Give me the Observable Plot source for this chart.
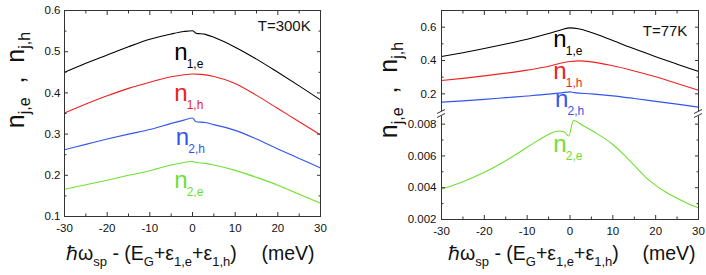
<!DOCTYPE html>
<html><head><meta charset="utf-8">
<script src="https://cdn.jsdelivr.net/npm/d3@7"></script>
<script src="https://cdn.jsdelivr.net/npm/@observablehq/plot@0.6"></script>
<style>
body{margin:0;background:#fff;}
#root{position:relative;width:706px;height:275px;overflow:hidden;background:#fff;font-family:"Liberation Sans",Arial,Helvetica,sans-serif;}
#root > svg{position:absolute;top:0;}
</style></head><body><div id="root"></div>
<script>
// ---------- data ----------
const X_DOMAIN = [-30, 30];
const X_MAJOR = [-30, -20, -10, 0, 10, 20, 30];
const X_MINOR = [-25, -15, -5, 5, 15, 25];

const Y300_DOMAIN = [0.1, 0.6];
const Y300_MAJOR = [0.1, 0.2, 0.3, 0.4, 0.5, 0.6];
const Y300_MINOR = [0.15, 0.25, 0.35, 0.45, 0.55];

const Y77_UP_DOMAIN = [0.094, 0.7];
const Y77_UP_MAJOR = [0.2, 0.4, 0.6];
const Y77_UP_MINOR = [0.3, 0.5];
const Y77_LO_DOMAIN = [0.002, 0.00848];
const Y77_LO_MAJOR = [0.002, 0.004, 0.006, 0.008];
const Y77_LO_MINOR = [0.003, 0.005, 0.007];

const COLORS = {n1e: "#000000", n1h: "#f02020", n2h: "#3355ee", n2e: "#6ee030"};

// T = 300 K
const n1e300_x = [-30,-25,-20,-15,-10,-5,-2,0,0.8,3,5,10,15,20,25,30];
const n1e300_y = [0.450,0.472,0.492,0.512,0.530,0.543,0.549,0.551,0.545,0.542,0.535,0.511,0.482,0.450,0.417,0.383];
const n1h300_x = [-30,-25,-20,-15,-10,-5,-2,0,2,5,10,15,20,25,30];
const n1h300_y = [0.351,0.373,0.393,0.411,0.426,0.439,0.444,0.446,0.445,0.440,0.423,0.394,0.362,0.330,0.298];
const n2h300_x = [-30,-25,-20,-15,-10,-5,-2,0,0.8,3,5,10,15,20,25,30];
const n2h300_y = [0.262,0.275,0.288,0.300,0.311,0.326,0.334,0.339,0.330,0.328,0.323,0.309,0.288,0.264,0.241,0.218];
const n2e300_x = [-30,-25,-20,-15,-10,-5,-2,0,0.8,3,5,10,15,20,25,30];
const n2e300_y = [0.166,0.177,0.188,0.200,0.211,0.225,0.231,0.234,0.231,0.229,0.225,0.212,0.195,0.176,0.154,0.132];

// T = 77 K
const n1e77_x = [-30,-25,-20,-15,-10,-5,-2,0,2,5,10,15,20,25,30];
const n1e77_y = [0.424,0.447,0.472,0.499,0.528,0.562,0.585,0.596,0.590,0.568,0.520,0.470,0.423,0.378,0.334];
const n1h77_x = [-30,-25,-20,-15,-10,-5,-2,0,2,5,10,15,20,25,30];
const n1h77_y = [0.280,0.293,0.308,0.324,0.342,0.365,0.385,0.394,0.398,0.392,0.368,0.337,0.302,0.262,0.222];
const n2h77_x = [-30,-25,-20,-15,-10,-5,-2,0,1,5,10,15,20,25,30];
const n2h77_y = [0.150,0.158,0.167,0.177,0.187,0.198,0.206,0.212,0.207,0.200,0.188,0.172,0.155,0.138,0.120];
const n2e77_x = [-30,-25,-20,-15,-10,-6,-2.6,-1.3,-0.3,0.8,3,5.6,10,12.5,15,17.5,20,22.5,25,27.5,30];
const n2e77_y = [0.00392,0.00438,0.00497,0.00570,0.00654,0.00721,0.00757,0.00750,0.00725,0.00823,0.00792,0.00752,0.00672,0.00610,0.00540,0.00470,0.00415,0.00370,0.00333,0.00300,0.00272];

// curve labels: [x, y, sub, key]
const LABELS300 = [[-4.3,0.481,"1,e","n1e"],[-4.3,0.380,"1,h","n1h"],[-3.9,0.274,"2,h","n2h"],[-4.3,0.170,"2,e","n2e"]];
const LABELS77_UP = [[-3.9,0.48,"1,e","n1e"],[-3.9,0.29,"1,h","n1h"],[-3.5,0.12,"2,h","n2h"]];
const LABELS77_LO = [[-3.9,0.00623,"2,e","n2e"]];
const TEMP300 = [{x: 27.7, y: 0.550, t: "T=300K"}];
const TEMP77 = [{x: 27.4, y: 0.550, t: "T=77K"}];

// ---------- helpers ----------
const zip = (xs, ys, key) => xs.map((x, i) => ({x, y: ys[i], key}));
const AX = {stroke: "#333", strokeWidth: 1};
const styleBase = {background: "transparent", overflow: "visible", fontFamily: "Liberation Sans, Arial, sans-serif", fontSize: "11.5px", color: "#111"};
const fmtX = d => String(d);
const TICK_FS = 11.5;

function yTicks(major, minor, anchors) {
  const m = [];
  for (const a of anchors) {
    m.push(Plot.axisY(major, {anchor: a, tickSize: -4, text: null, label: null, ...AX}));
    m.push(Plot.axisY(minor, {anchor: a, tickSize: -2.5, text: null, label: null, ...AX}));
  }
  return m;
}
function xTicks(anchors) {
  const m = [];
  for (const a of anchors) {
    m.push(Plot.axisX(X_MAJOR, {anchor: a, tickSize: -4, text: null, label: null, ...AX}));
    m.push(Plot.axisX(X_MINOR, {anchor: a, tickSize: -2.5, text: null, label: null, ...AX}));
  }
  return m;
}
function lineMarks(list) {
  return list.map(([xs, ys, key]) => Plot.line(zip(xs, ys, key), {x: d => d.x, y: d => d.y, stroke: COLORS[key], strokeWidth: 1.1, curve: "monotone-x"}));
}
function labelMarks(labels) {
  const data = labels.map(([x, y, sub, key]) => ({x, y, sub, key}));
  return [
    Plot.text(data, {x: d => d.x, y: d => d.y, text: () => "n", fill: d => COLORS[d.key], fontSize: 24, textAnchor: "start", lineAnchor: "bottom"}),
    Plot.text(data, {x: d => d.x, y: d => d.y, text: d => d.sub, fill: d => COLORS[d.key], fontSize: 12, textAnchor: "start", lineAnchor: "bottom", dx: 12.5, dy: 8})
  ];
}

const root = document.getElementById("root");

// ---------- left panel (300 K) ----------
const left = Plot.plot({
  width: 340, height: 275, marginLeft: 64, marginRight: 20, marginTop: 10, marginBottom: 59,
  style: styleBase,
  x: {domain: X_DOMAIN, label: null},
  y: {domain: Y300_DOMAIN, label: null},
  marks: [
    ...lineMarks([[n1e300_x, n1e300_y, "n1e"], [n1h300_x, n1h300_y, "n1h"], [n2h300_x, n2h300_y, "n2h"], [n2e300_x, n2e300_y, "n2e"]]),
    ...labelMarks(LABELS300),
    Plot.text(TEMP300, {x: "x", y: "y", text: "t", fontSize: 15, textAnchor: "end", lineAnchor: "bottom", fill: "#111"}),
    ...yTicks(Y300_MAJOR, Y300_MINOR, ["left", "right"]),
    ...xTicks(["bottom", "top"]),
    Plot.axisY(Y300_MAJOR, {anchor: "left", tickSize: 0, tickPadding: 4, tickFormat: d3.format(".1f"), label: null, fontSize: TICK_FS, fill: "#111"}),
    Plot.axisX(X_MAJOR, {anchor: "bottom", tickSize: 0, tickPadding: 7, tickFormat: fmtX, label: null, fontSize: TICK_FS, fill: "#111"}),
    Plot.frame({stroke: "#333", strokeWidth: 1})
  ]
});
left.style.left = "0px";
root.appendChild(left);

// ---------- right panel (77 K), upper segment ----------
const rightUp = Plot.plot({
  width: 346, height: 275, marginLeft: 81, marginRight: 8, marginTop: 10, marginBottom: 164,
  style: styleBase,
  x: {domain: X_DOMAIN, label: null},
  y: {domain: Y77_UP_DOMAIN, label: null},
  marks: [
    ...lineMarks([[n1e77_x, n1e77_y, "n1e"], [n1h77_x, n1h77_y, "n1h"], [n2h77_x, n2h77_y, "n2h"]]),
    ...labelMarks(LABELS77_UP),
    Plot.text(TEMP77, {x: "x", y: "y", text: "t", fontSize: 15, textAnchor: "end", lineAnchor: "bottom", fill: "#111"}),
    ...yTicks(Y77_UP_MAJOR, Y77_UP_MINOR, ["left", "right"]),
    ...xTicks(["top"]),
    Plot.axisY(Y77_UP_MAJOR, {anchor: "left", tickSize: 0, tickPadding: 5, tickFormat: d3.format(".1f"), label: null, fontSize: TICK_FS, fill: "#111"}),
    Plot.ruleX(X_DOMAIN, {stroke: "#333", strokeWidth: 1}),
    Plot.ruleY([Y77_UP_DOMAIN[1]], {stroke: "#333", strokeWidth: 1})
  ]
});
rightUp.style.left = "360px";
root.appendChild(rightUp);

// ---------- right panel (77 K), lower segment ----------
const rightLo = Plot.plot({
  width: 346, height: 275, marginLeft: 81, marginRight: 8, marginTop: 116, marginBottom: 56,
  style: styleBase,
  x: {domain: X_DOMAIN, label: null},
  y: {domain: Y77_LO_DOMAIN, label: null},
  marks: [
    ...lineMarks([[n2e77_x, n2e77_y, "n2e"]]),
    ...labelMarks(LABELS77_LO),
    ...yTicks(Y77_LO_MAJOR, Y77_LO_MINOR, ["left", "right"]),
    ...xTicks(["bottom"]),
    Plot.axisY(Y77_LO_MAJOR, {anchor: "left", tickSize: 0, tickPadding: 5, tickFormat: d3.format(".3f"), label: null, fontSize: TICK_FS, fill: "#111"}),
    Plot.axisX(X_MAJOR, {anchor: "bottom", tickSize: 0, tickPadding: 7, tickFormat: fmtX, label: null, fontSize: TICK_FS, fill: "#111"}),
    Plot.ruleX(X_DOMAIN, {stroke: "#333", strokeWidth: 1}),
    Plot.ruleY([Y77_LO_DOMAIN[0]], {stroke: "#333", strokeWidth: 1})
  ]
});
rightLo.style.left = "360px";
root.appendChild(rightLo);

// ---------- titles and axis-break marks ----------
const NS = "http://www.w3.org/2000/svg";
const ov = document.createElementNS(NS, "svg");
ov.setAttribute("width", 706); ov.setAttribute("height", 275);
ov.style.left = "0px";
function xTitle(x0, x1) {
  return `<text x="${x0}" y="260" font-size="19.5" fill="#111">ℏω<tspan font-size="13" dy="6">sp</tspan><tspan dy="-6"> - (E</tspan><tspan font-size="13" dy="6">G</tspan><tspan dy="-6">+ε</tspan><tspan font-size="13" dy="6">1,e</tspan><tspan dy="-6">+ε</tspan><tspan font-size="13" dy="6">1,h</tspan><tspan dy="-6">)</tspan></text>
  <text x="${x1}" y="260" font-size="19.5" fill="#111" text-anchor="end">(meV)</text>`;
}
function yTitle(x, y) {
  return `<text transform="translate(${x},${y}) rotate(-90)" text-anchor="middle" font-size="25" fill="#111">n<tspan font-size="16" dy="6">j,e</tspan><tspan dy="-6" xml:space="preserve">  ,  n</tspan><tspan font-size="16" dy="6">j,h</tspan></text>`;
}
function breakMarks(x) {
  return `<line x1="${x-4}" y1="113.5" x2="${x+4}" y2="109.5" stroke="#333"/><line x1="${x-4}" y1="117.5" x2="${x+4}" y2="113.5" stroke="#333"/>`;
}
ov.innerHTML = xTitle(66, 314.5) + xTitle(448, 695.5) + yTitle(24, 80) + yTitle(397, 90) + breakMarks(441) + breakMarks(698);
ov.style.fontFamily = "Liberation Sans, Arial, sans-serif";
root.appendChild(ov);
</script>
</body></html>
